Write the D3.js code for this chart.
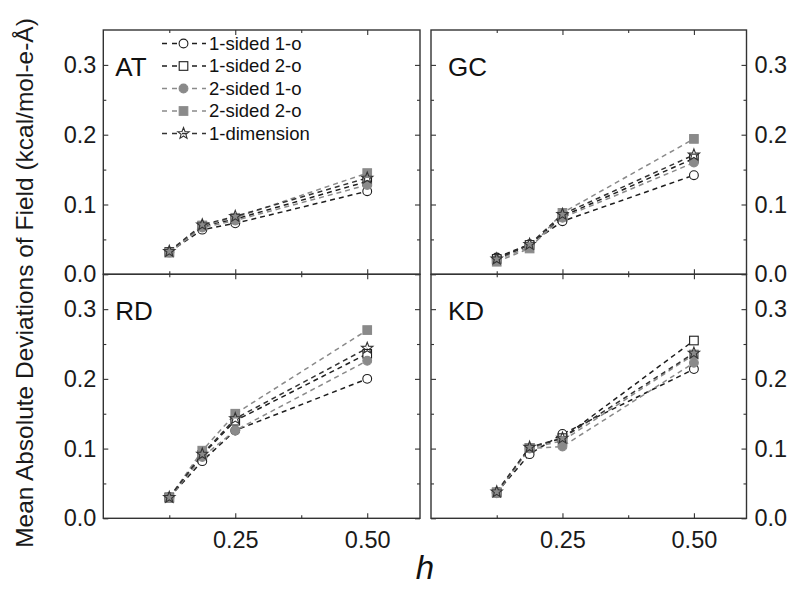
<!DOCTYPE html>
<html>
<head>
<meta charset="utf-8">
<script src="https://cdn.jsdelivr.net/npm/d3@7"></script>
<style>
  html, body { margin: 0; padding: 0; background: #fff; }
  svg { display: block; font-family: "Liberation Sans", Arial, sans-serif; }
</style>
</head>
<body>
<svg id="chart" width="800" height="589"></svg>
<script>
// ---------------- data ----------------
const hValues = [0.125, 0.1875, 0.25, 0.5];
const seriesNames = ["1-sided 1-o", "1-sided 2-o", "2-sided 1-o", "2-sided 2-o", "1-dimension"];
const panelNames = ["AT", "GC", "RD", "KD"];
const xMajorTicks = [0.25, 0.5];
const xMinorTicks = [0.125, 0.375];
const yMajorTicks = [0.0, 0.1, 0.2, 0.3];
const yMinorTicks = [0.05, 0.15, 0.25];

const valuesAT = [
  [0.032, 0.064, 0.073, 0.119],
  [0.032, 0.069, 0.079, 0.133],
  [0.031, 0.067, 0.077, 0.128],
  [0.031, 0.070, 0.081, 0.145],
  [0.033, 0.071, 0.083, 0.138]
];
const valuesGC = [
  [0.024, 0.043, 0.076, 0.142],
  [0.022, 0.042, 0.083, 0.166],
  [0.021, 0.039, 0.081, 0.160],
  [0.018, 0.037, 0.088, 0.194],
  [0.022, 0.043, 0.086, 0.171]
];
const valuesRD = [
  [0.030, 0.082, 0.126, 0.200],
  [0.030, 0.091, 0.140, 0.236],
  [0.029, 0.088, 0.126, 0.226],
  [0.029, 0.097, 0.150, 0.270],
  [0.030, 0.092, 0.143, 0.244]
];
const valuesKD = [
  [0.037, 0.092, 0.121, 0.214],
  [0.037, 0.101, 0.115, 0.255],
  [0.036, 0.100, 0.103, 0.223],
  [0.037, 0.101, 0.111, 0.235],
  [0.038, 0.102, 0.115, 0.237]
];
const panelValues = [valuesAT, valuesGC, valuesRD, valuesKD];

// ---------------- styles ----------------
const BLACK = "#1e1e1e", GREY = "#8a8a8a";
const seriesStyle = [
  {line: BLACK, shape: "circle", stroke: BLACK, fill: "#fff"},
  {line: BLACK, shape: "square", stroke: BLACK, fill: "#fff"},
  {line: GREY,  shape: "circle", stroke: GREY,  fill: GREY},
  {line: GREY,  shape: "square", stroke: GREY,  fill: GREY},
  {line: "#333", shape: "star",  stroke: "#333", fill: "none"}
];
const FONT = "'Liberation Sans', Arial, sans-serif";

const svg = d3.select("#chart");

const colX = [[103.3, 420], [431, 746.5]];
const rowY = [[30, 274.3], [274.3, 518.3]];

function starPath(r) {
  const pts = [];
  for (let i = 0; i < 10; i++) {
    const rr = i % 2 === 0 ? r : r * 0.42;
    const a = -Math.PI / 2 + i * Math.PI / 5;
    pts.push([rr * Math.cos(a), rr * Math.sin(a)]);
  }
  return "M" + pts.map(p => p[0].toFixed(2) + "," + p[1].toFixed(2)).join("L") + "Z";
}

function drawMarker(g, style, cx, cy) {
  if (style.shape === "circle") {
    g.append("circle").attr("cx", cx).attr("cy", cy).attr("r", 4.4)
      .attr("fill", style.fill).attr("stroke", style.stroke).attr("stroke-width", 1.1);
  } else if (style.shape === "square") {
    g.append("rect").attr("x", cx - 4.3).attr("y", cy - 4.3).attr("width", 8.6).attr("height", 8.6)
      .attr("fill", style.fill).attr("stroke", style.stroke).attr("stroke-width", 1.1);
  } else {
    g.append("path").attr("d", starPath(6)).attr("transform", `translate(${cx},${cy})`)
      .attr("fill", style.fill).attr("stroke", style.stroke).attr("stroke-width", 1.1);
  }
}

panelNames.forEach((name, pi) => {
  const col = pi % 2, row = Math.floor(pi / 2);
  const [x0, x1] = colX[col];
  const [y0, y1] = rowY[row];
  const x = d3.scaleLinear().domain([0, 0.6]).range([x0, x1]);
  const y = d3.scaleLinear().domain([0, 0.35]).range([y1, y0]);
  const g = svg.append("g");

  function styleAxis(sel) {
    sel.select(".domain").remove();
    sel.selectAll(".tick line").attr("stroke", "#333").attr("stroke-width", 1.1);
    sel.selectAll("text").attr("font-family", FONT).attr("font-size", 23.5).attr("fill", "#1a1a1a");
  }
  // left
  g.append("g").attr("transform", `translate(${x0},0)`)
    .call(d3.axisLeft(y).tickValues(yMajorTicks).tickSize(-5).tickSizeOuter(0).tickPadding(7)
      .tickFormat(col === 0 ? d3.format(".1f") : () => ""))
    .call(styleAxis);
  g.append("g").attr("transform", `translate(${x0},0)`)
    .call(d3.axisLeft(y).tickValues(yMinorTicks).tickSize(-3).tickSizeOuter(0).tickFormat(() => ""))
    .call(styleAxis);
  // right
  g.append("g").attr("transform", `translate(${x1},0)`)
    .call(d3.axisRight(y).tickValues(yMajorTicks).tickSize(-5).tickSizeOuter(0).tickPadding(8)
      .tickFormat(col === 1 ? d3.format(".1f") : () => ""))
    .call(styleAxis);
  g.append("g").attr("transform", `translate(${x1},0)`)
    .call(d3.axisRight(y).tickValues(yMinorTicks).tickSize(-3).tickSizeOuter(0).tickFormat(() => ""))
    .call(styleAxis);
  // bottom
  g.append("g").attr("transform", `translate(0,${y1})`)
    .call(d3.axisBottom(x).tickValues(xMajorTicks).tickSize(-5).tickSizeOuter(0).tickPadding(13)
      .tickFormat(row === 1 ? d3.format(".2f") : () => ""))
    .call(styleAxis);
  g.append("g").attr("transform", `translate(0,${y1})`)
    .call(d3.axisBottom(x).tickValues(xMinorTicks).tickSize(-3).tickSizeOuter(0).tickFormat(() => ""))
    .call(styleAxis);
  // top
  g.append("g").attr("transform", `translate(0,${y0})`)
    .call(d3.axisTop(x).tickValues(xMajorTicks).tickSize(-5).tickSizeOuter(0).tickFormat(() => ""))
    .call(styleAxis);
  g.append("g").attr("transform", `translate(0,${y0})`)
    .call(d3.axisTop(x).tickValues(xMinorTicks).tickSize(-3).tickSizeOuter(0).tickFormat(() => ""))
    .call(styleAxis);

  // frame
  g.append("rect").attr("x", x0).attr("y", y0).attr("width", x1 - x0).attr("height", y1 - y0)
    .attr("fill", "none").attr("stroke", "#333").attr("stroke-width", 1.4);

  // panel label
  g.append("text").attr("x", col === 0 ? x0 + 12 : x0 + 17).attr("y", y(0.3) + 11)
    .attr("font-family", FONT).attr("font-size", 26).attr("fill", "#111").text(name);

  // series lines
  const vals = panelValues[pi];
  const line = d3.line().x((d, i) => x(hValues[i])).y(d => y(d));
  vals.forEach((sv, si) => {
    g.append("path").attr("d", line(sv)).attr("fill", "none")
      .attr("stroke", seriesStyle[si].line).attr("stroke-width", 1.5)
      .attr("stroke-dasharray", "5,4");
  });
  vals.forEach((sv, si) => {
    sv.forEach((v, i) => drawMarker(g, seriesStyle[si], x(hValues[i]), y(v)));
  });
});

// legend
const legend = svg.append("g");
seriesNames.forEach((nm, si) => {
  const cy = 43.5 + si * 22.5;
  legend.append("line").attr("x1", 162).attr("x2", 206).attr("y1", cy).attr("y2", cy)
    .attr("stroke", seriesStyle[si].line).attr("stroke-width", 1.5).attr("stroke-dasharray", "5,5");
  drawMarker(legend, seriesStyle[si], 183.5, cy);
  legend.append("text").attr("x", 209).attr("y", cy).attr("dy", "0.35em")
    .attr("font-family", FONT).attr("font-size", 18.5).attr("fill", "#111").text(nm);
});

// axis titles
svg.append("text").attr("transform", "translate(33,283) rotate(-90)").attr("text-anchor", "middle")
  .attr("font-family", FONT).attr("font-size", 24.5).attr("fill", "#1a1a1a")
  .text("Mean Absolute Deviations of Field (kcal/mol-e-Å)");
svg.append("text").attr("x", 425).attr("y", 579).attr("text-anchor", "middle")
  .attr("font-family", FONT).attr("font-size", 33).attr("font-style", "italic").attr("fill", "#111")
  .text("h");
</script>
</body>
</html>
